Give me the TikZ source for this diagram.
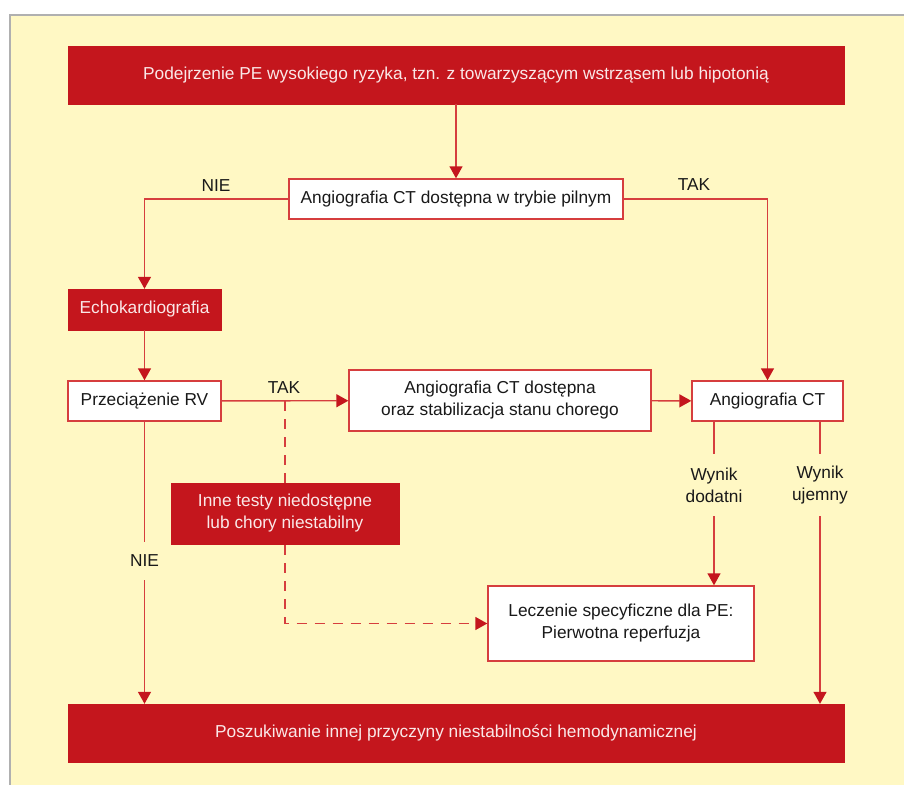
\documentclass[tikz,border=0pt]{standalone}
\usepackage{fontspec}
\setmainfont{Liberation Sans}
\usetikzlibrary{arrows.meta,calc}
\definecolor{bgY}{RGB}{255,248,196}
\definecolor{redF}{RGB}{196,22,29}
\definecolor{redL}{RGB}{214,62,62}
\definecolor{frameG}{RGB}{176,176,176}
\definecolor{txtW}{RGB}{250,232,232}
\definecolor{txtB}{RGB}{25,25,25}
\begin{document}
\begin{tikzpicture}[x=1pt,y=-1pt,
  every node/.style={font=\fontsize{17.3}{22}\selectfont, text=txtB},
  redbox/.style={fill=redF, draw=redF, text=txtW, inner sep=0pt, align=center},
  whitebox/.style={fill=white, draw=redL, line width=1.4pt, inner sep=0pt, align=center},
  conn/.style={draw=redL, line width=1.4pt, -{Triangle[length=12pt,width=13pt,color=redF]}},
  plainline/.style={draw=redL, line width=1.4pt},
  dconn/.style={conn, dash pattern=on 10pt off 8pt},
  lbl/.style={inner sep=0pt, align=center}]
\useasboundingbox (0,0) rectangle (904,784);
\fill[white] (0,0) rectangle (904,784);
\filldraw[fill=bgY, draw=frameG, line width=1.5pt] (10,15) rectangle (940,820);

% nodes
\node[redbox, minimum width=776pt, minimum height=58pt] (top) at (456,75)
  {Podejrzenie PE wysokiego ryzyka, tzn. z towarzyszącym wstrząsem lub hipotonią};
\node[whitebox, minimum width=334pt, minimum height=40pt] (pilny) at (456,199)
  {Angiografia CT dostępna w trybie pilnym};
\node[redbox, minimum width=153pt, minimum height=41pt] (echo) at (144.5,309.5)
  {Echokardiografia};
\node[whitebox, minimum width=153pt, minimum height=40pt] (prz) at (144.5,401)
  {Przeciążenie RV};
\node[whitebox, minimum width=302pt, minimum height=61pt] (dost) at (500,400.5)
  {Angiografia CT dostępna\\oraz stabilizacja stanu chorego};
\node[whitebox, minimum width=151pt, minimum height=40pt] (angio) at (767.5,401)
  {Angiografia CT};
\node[whitebox, minimum width=266pt, minimum height=75pt] (lecz) at (621,623.5)
  {Leczenie specyficzne dla PE:\\Pierwotna reperfuzja};
\node[redbox, minimum width=776pt, minimum height=58pt] (bottom) at (456,733)
  {Poszukiwanie innej przyczyny niestabilności hemodynamicznej};

% labels
\node[lbl] (lnie) at (216,186) {NIE};
\node[lbl] (ltak) at (694,185) {TAK};
\node[lbl] (ltak2) at (284,388) {TAK};
\node[lbl, minimum height=38pt] (nie2) at (144.5,561) {NIE};
\node[lbl, minimum height=62pt] (wd) at (714,485) {Wynik\\dodatni};
\node[lbl, minimum height=62pt] (wu) at (820,485) {Wynik\\ujemny};

% connectors
\draw[conn] (top) -- (pilny);
\draw[conn] (pilny.west) -| (echo.north);
\draw[conn] (pilny.east) -| (angio.north);
\draw[conn] (echo) -- (prz);
\draw[conn] (prz) -- (dost);
\draw[conn] (dost) -- (angio);
\draw[plainline] (prz.south) -- (nie2.north);
\draw[conn] (nie2.south) -- (nie2 |- bottom.north);
\draw[plainline] (wd.north |- angio.south) -- (wd.north);
\draw[conn] (wd.south) -- (wd |- lecz.north);
\draw[plainline] (wu.north |- angio.south) -- (wu.north);
\draw[conn] (wu.south) -- (wu |- bottom.north);

% dashed path, behind the red box
\coordinate (d0) at (285,401);
\draw[dconn] (d0) -- (d0 |- lecz.west) -- (lecz.west);
\node[redbox, minimum width=228pt, minimum height=61pt] (inne) at (285,513.5)
  {Inne testy niedostępne\\lub chory niestabilny};
\end{tikzpicture}
\end{document}
